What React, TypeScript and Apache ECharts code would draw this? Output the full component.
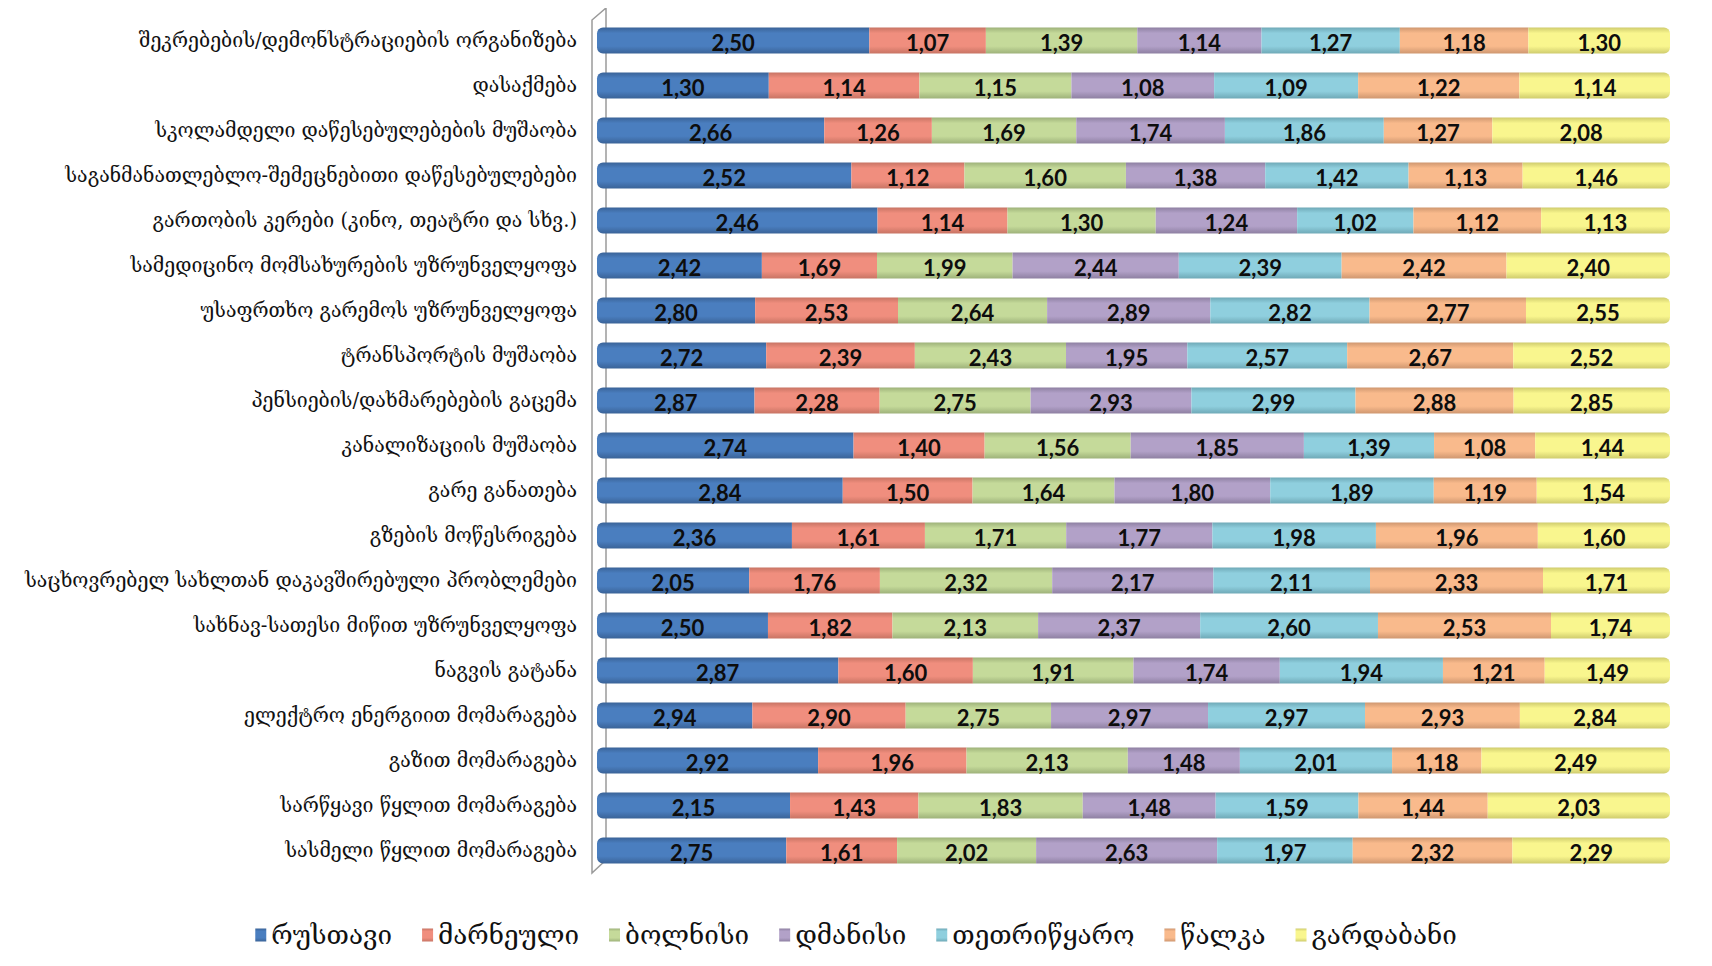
import React, { useEffect, useRef } from "react";
import * as echarts from "echarts";

const categories = [
  "შეკრებების/დემონსტრაციების ორგანიზება",
  "დასაქმება",
  "სკოლამდელი დაწესებულებების მუშაობა",
  "საგანმანათლებლო-შემეცნებითი დაწესებულებები",
  "გართობის კერები (კინო, თეატრი და სხვ.)",
  "სამედიცინო მომსახურების უზრუნველყოფა",
  "უსაფრთხო გარემოს უზრუნველყოფა",
  "ტრანსპორტის მუშაობა",
  "პენსიების/დახმარებების გაცემა",
  "კანალიზაციის მუშაობა",
  "გარე განათება",
  "გზების მოწესრიგება",
  "საცხოვრებელ სახლთან დაკავშირებული პრობლემები",
  "სახნავ-სათესი მიწით უზრუნველყოფა",
  "ნაგვის გატანა",
  "ელექტრო ენერგიით მომარაგება",
  "გაზით მომარაგება",
  "სარწყავი წყლით მომარაგება",
  "სასმელი წყლით მომარაგება",
];

const seriesNames = ["რუსთავი", "მარნეული", "ბოლნისი", "დმანისი", "თეთრიწყარო", "წალკა", "გარდაბანი"];

const rustavi = [2.5, 1.3, 2.66, 2.52, 2.46, 2.42, 2.8, 2.72, 2.87, 2.74, 2.84, 2.36, 2.05, 2.5, 2.87, 2.94, 2.92, 2.15, 2.75];
const marneuli = [1.07, 1.14, 1.26, 1.12, 1.14, 1.69, 2.53, 2.39, 2.28, 1.4, 1.5, 1.61, 1.76, 1.82, 1.6, 2.9, 1.96, 1.43, 1.61];
const bolnisi = [1.39, 1.15, 1.69, 1.6, 1.3, 1.99, 2.64, 2.43, 2.75, 1.56, 1.64, 1.71, 2.32, 2.13, 1.91, 2.75, 2.13, 1.83, 2.02];
const dmanisi = [1.14, 1.08, 1.74, 1.38, 1.24, 2.44, 2.89, 1.95, 2.93, 1.85, 1.8, 1.77, 2.17, 2.37, 1.74, 2.97, 1.48, 1.48, 2.63];
const tetritskaro = [1.27, 1.09, 1.86, 1.42, 1.02, 2.39, 2.82, 2.57, 2.99, 1.39, 1.89, 1.98, 2.11, 2.6, 1.94, 2.97, 2.01, 1.59, 1.97];
const tsalka = [1.18, 1.22, 1.27, 1.13, 1.12, 2.42, 2.77, 2.67, 2.88, 1.08, 1.19, 1.96, 2.33, 2.53, 1.21, 2.93, 1.18, 1.44, 2.32];
const gardabani = [1.3, 1.14, 2.08, 1.46, 1.13, 2.4, 2.55, 2.52, 2.85, 1.44, 1.54, 1.6, 1.71, 1.74, 1.49, 2.84, 2.49, 2.03, 2.29];

const allSeries = [rustavi, marneuli, bolnisi, dmanisi, tetritskaro, tsalka, gardabani];

const baseColors = ["#4A7EBF", "#F08E7E", "#C5DA9A", "#B2A1C8", "#8FCFDE", "#F9BA8C", "#F9F68E"];
const darkColors = ["#3A6398", "#C87464", "#9EB27A", "#8E80A2", "#6FA9B7", "#CF9770", "#CFCC6E"];

export default function App() {
  const ref = useRef<HTMLDivElement>(null);
  useEffect(() => {
    if (!ref.current) return;
    const chart = echarts.init(ref.current, null, { renderer: "svg" });
    const totals = categories.map((_, i) => allSeries.reduce((s, arr) => s + arr[i], 0));
    const series = allSeries.map((arr, si) => ({
      name: seriesNames[si],
      type: "bar",
      stack: "total",
      barWidth: 26,
      data: arr.map((v, i) => ({ value: (v / totals[i]) * 100, raw: v })),
      itemStyle: {
        color: new echarts.graphic.LinearGradient(0, 0, 0, 1, [
          { offset: 0, color: darkColors[si] },
          { offset: 0.22, color: baseColors[si] },
          { offset: 0.72, color: baseColors[si] },
          { offset: 1, color: darkColors[si] },
        ]),
        borderRadius: si === 6 ? [0, 6, 6, 0] : si === 0 ? [6, 0, 0, 6] : 0,
      },
      label: {
        show: true,
        position: "inside",
        offset: [0, 2],
        formatter: (p: any) => p.data.raw.toFixed(2).replace(".", ","),
        color: "#0d0d0d",
        fontFamily: "Lato",
        fontWeight: "bold",
        fontSize: 22,
      },
      emphasis: { disabled: true },
    }));
    chart.setOption({
      animation: false,
      backgroundColor: "#fff",
      grid: { left: 589, right: 34, top: 10, bottom: 85, containLabel: false },
      xAxis: { type: "value", min: 0, max: 100, show: false },
      yAxis: {
        type: "category",
        inverse: true,
        data: categories,
        axisLine: { show: false },
        axisTick: { show: false },
        axisLabel: {
          margin: 20,
          fontFamily: "DejaVu Serif",
          fontSize: 19.5,
          color: "#111",
        },
      },
      legend: {
        bottom: 5,
        left: "center",
        icon: "rect",
        itemWidth: 11,
        itemHeight: 13,
        itemGap: 30,
        textStyle: { fontFamily: "DejaVu Serif", fontSize: 26, color: "#111" },
        data: seriesNames,
      },
      graphic: [
        {
          type: "polyline",
          z: -1,
          shape: { points: [[598, 0], [584, 12], [584, 865], [600, 850], [598, 850], [598, 0]] },
          style: { stroke: "#9a9a9a", lineWidth: 1.5, fill: "#fff" },
        },
      ],
      series,
    });
    return () => chart.dispose();
  }, []);
  return <div ref={ref} style={{ width: 1696, height: 950 }} />;
}
